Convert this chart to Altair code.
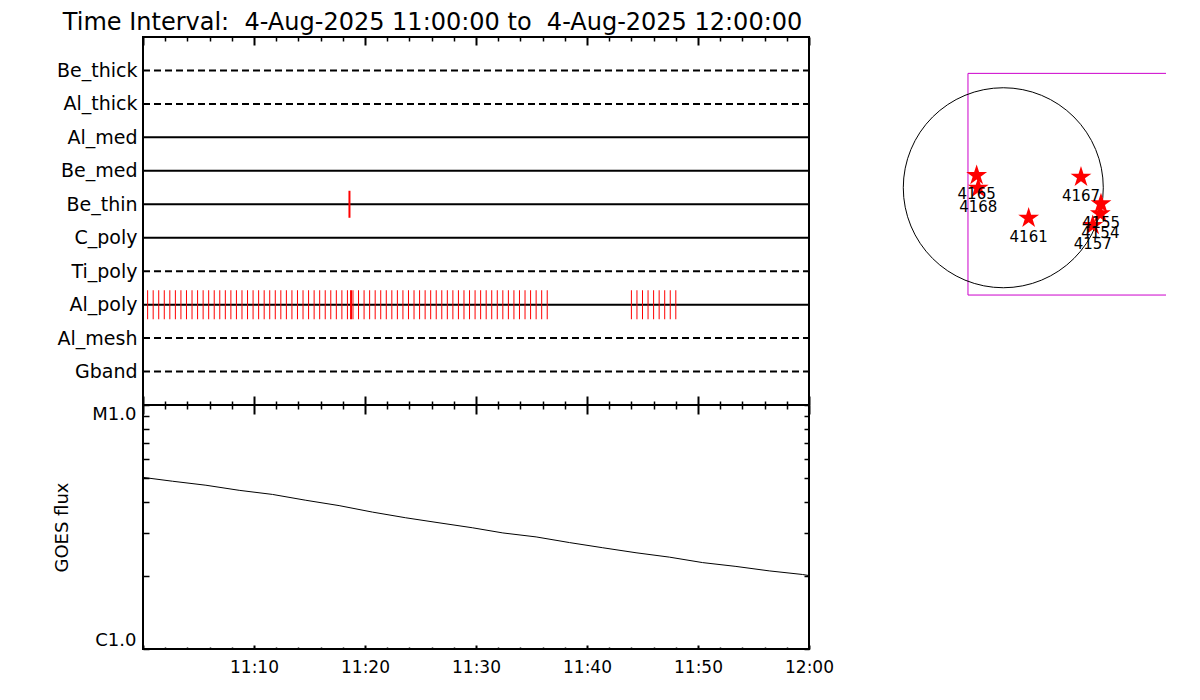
import altair as alt
import pandas as pd

DAY = "2025-08-04"
TITLE = "Time Interval:\u00a0\u00a04-Aug-2025 11:00:00 to\u00a0\u00a04-Aug-2025 12:00:00"
FONT = "DejaVu Sans"

# ---------------- data ----------------
detectors = ["Be_thick", "Al_thick", "Al_med", "Be_med", "Be_thin",
             "C_poly", "Ti_poly", "Al_poly", "Al_mesh", "Gband"]
detector_styles = ["dashed", "dashed", "solid", "solid", "solid",
                   "solid", "dashed", "solid", "dashed", "dashed"]
interval_start = "11:00:00"
interval_end = "12:00:00"

al_poly_times = [
    "11:00:25", "11:00:55", "11:01:25", "11:01:55", "11:02:25", "11:02:55",
    "11:03:25", "11:03:55", "11:04:25", "11:04:55", "11:05:25", "11:05:55",
    "11:06:25", "11:06:55", "11:07:25", "11:07:55", "11:08:25", "11:08:55",
    "11:09:25", "11:09:55", "11:10:25", "11:10:55", "11:11:25", "11:11:55",
    "11:12:25", "11:12:55", "11:13:25", "11:13:55", "11:14:25", "11:14:55",
    "11:15:25", "11:15:55", "11:16:25", "11:16:55", "11:17:25", "11:17:55",
    "11:18:25", "11:18:42", "11:18:47", "11:18:55", "11:19:25", "11:19:55",
    "11:20:25", "11:20:55", "11:21:25", "11:21:55", "11:22:25", "11:22:55",
    "11:23:25", "11:23:55", "11:24:25", "11:24:55", "11:25:25", "11:25:55",
    "11:26:25", "11:26:55", "11:27:25", "11:27:55", "11:28:25", "11:28:55",
    "11:29:25", "11:29:55", "11:30:25", "11:30:55", "11:31:25", "11:31:55",
    "11:32:25", "11:32:55", "11:33:25", "11:33:55", "11:34:25", "11:34:55",
    "11:35:25", "11:35:55", "11:36:25",
    "11:44:00", "11:44:30", "11:45:00", "11:45:30", "11:46:00", "11:46:30",
    "11:47:00", "11:47:30", "11:48:00",
]
be_thin_times = ["11:18:36"]

goes_times = ["11:00:00", "11:02:40", "11:05:40", "11:08:40", "11:11:40", "11:14:40",
              "11:17:40", "11:20:40", "11:23:40", "11:26:40", "11:29:40", "11:32:25",
              "11:35:25", "11:38:25", "11:41:25", "11:44:25", "11:47:25", "11:50:25",
              "11:53:25", "11:56:25", "11:59:25", "12:00:00"]
goes_flux = [5.05e-6, 4.87e-6, 4.69e-6, 4.47e-6, 4.30e-6, 4.07e-6,
             3.87e-6, 3.64e-6, 3.45e-6, 3.29e-6, 3.14e-6, 2.99e-6,
             2.88e-6, 2.73e-6, 2.60e-6, 2.48e-6, 2.38e-6, 2.26e-6,
             2.18e-6, 2.09e-6, 2.02e-6, 2.00e-6]

tick_times = ["11:00", "11:02", "11:04", "11:06", "11:08", "11:10", "11:12", "11:14",
              "11:16", "11:18", "11:20", "11:22", "11:24", "11:26", "11:28", "11:30",
              "11:32", "11:34", "11:36", "11:38", "11:40", "11:42", "11:44", "11:46",
              "11:48", "11:50", "11:52", "11:54", "11:56", "11:58", "12:00"]
label_times = ["11:10", "11:20", "11:30", "11:40", "11:50", "12:00"]
flux_ticks = [1e-6, 2e-6, 3e-6, 4e-6, 5e-6, 6e-6, 7e-6, 8e-6, 9e-6, 1e-5]
flux_labels = [1e-6, 1e-5]

ar_numbers = ["4165", "4168", "4167", "4161", "4155", "4154", "4157"]
ar_x = [-252, -237, 735, 240, 924, 918, 846]
ar_y = [117, -3, 101, -287, -151, -246, -356]
fov_x = [-334, 1766]
fov_y = [-1015, 1082]
map_x_domain = [-1062, 1539]
map_y_domain = [-1412, 1426]


def iso(t):
    if len(t) == 5:
        t = t + ":00"
    return f"{DAY}T{t}Z"


def ms(t):
    return int(pd.Timestamp(iso(t)).timestamp() * 1000)


# ---------------- tables ----------------
det_df = pd.DataFrame({"detector": detectors, "style": detector_styles,
                       "start": iso(interval_start), "end": iso(interval_end)})
al_df = pd.DataFrame({"time": [iso(t) for t in al_poly_times], "detector": "Al_poly"})
be_df = pd.DataFrame({"time": [iso(t) for t in be_thin_times], "detector": "Be_thin"})
goes_df = pd.DataFrame({"time": [iso(t) for t in goes_times], "flux": goes_flux})
ar_df = pd.DataFrame({"ar": ar_numbers, "x": ar_x, "y": ar_y})
fov_df = pd.DataFrame({"x1": [fov_x[0]], "x2": [fov_x[1]], "y1": [fov_y[0]], "y2": [fov_y[1]]})
sun_df = pd.DataFrame({"x": [0], "y": [0]})

W = 666
H1 = 368
H2 = 244

tick_ms = [ms(t) for t in tick_times]
label_ms = [ms(t) for t in label_times]
xscale = alt.Scale(type="utc", domain=[ms(interval_start), ms(interval_end)], nice=False)
yscale_det = alt.Scale(type="point", domain=detectors, padding=1)
yscale_flux = alt.Scale(type="log", domain=[1e-6, 1e-5], nice=False)

MAJOR = "utcminutes(datum.value) % 10 === 0"


def x_tick_axis(orient, offset, major, minor):
    return alt.Axis(orient=orient, offset=offset, values=tick_ms, labels=False,
                    domain=False, grid=False, title=None, tickColor="black",
                    tickSize={"condition": {"test": MAJOR, "value": major}, "value": minor},
                    tickWidth={"condition": {"test": MAJOR, "value": 2}, "value": 1.5})


def y_tick_axis(orient, offset, size):
    return alt.Axis(orient=orient, offset=offset, values=flux_ticks, labels=False,
                    domain=False, grid=False, title=None, tickColor="black",
                    tickSize=size, tickWidth=1.5)


border = alt.ViewBackground(stroke="black", strokeWidth=2)

# ---------------- upper panel ----------------
rules = alt.Chart(det_df).mark_rule(color="black", strokeWidth=2).encode(
    x=alt.X("start:T", scale=xscale, axis=x_tick_axis("bottom", -H1, 8, 4)),
    x2="end:T",
    y=alt.Y("detector:N", scale=yscale_det, sort=detectors,
            axis=alt.Axis(ticks=False, domain=False, grid=False, title=None,
                          labelFont=FONT, labelFontSize=19, labelColor="black",
                          labelPadding=6)),
    strokeDash=alt.StrokeDash("style:N", scale=alt.Scale(domain=["solid", "dashed"],
                                                         range=[[1, 0], [7, 4]]),
                              legend=None),
)
al_ticks = alt.Chart(al_df).mark_tick(orient="vertical", size=29, thickness=1,
                                      color="#ff0000", opacity=1).encode(
    x=alt.X("time:T", scale=xscale, axis=x_tick_axis("top", -H1, 9, 4)),
    y=alt.Y("detector:N", scale=yscale_det, sort=detectors, axis=None),
)
be_ticks = alt.Chart(be_df).mark_tick(orient="vertical", size=27, thickness=2,
                                      color="#ff0000", opacity=1).encode(
    x=alt.X("time:T", scale=xscale, axis=None),
    y=alt.Y("detector:N", scale=yscale_det, sort=detectors, axis=None),
)
upper = alt.layer(rules, al_ticks, be_ticks).resolve_axis(
    x="independent", y="independent").properties(width=W, height=H1, view=border)

# ---------------- lower panel ----------------
goes_line = alt.Chart(goes_df).mark_line(color="black", strokeWidth=1).encode(
    x=alt.X("time:T", scale=xscale,
            axis=alt.Axis(orient="bottom", values=label_ms, format="%H:%M", ticks=False,
                          domain=False, grid=False, title=None, labelFlush=False,
                          labelFont=FONT, labelFontSize=17, labelColor="black",
                          labelPadding=10)),
    y=alt.Y("flux:Q", scale=yscale_flux,
            axis=alt.Axis(values=flux_labels,
                          labelExpr="datum.value > 5e-6 ? 'M1.0' : 'C1.0'",
                          labelFlush=True, ticks=False, domain=False, grid=False,
                          labelFont=FONT, labelFontSize=18, labelColor="black",
                          labelPadding=7, title="GOES flux", titleFont=FONT,
                          titleFontSize=18, titleFontWeight="normal",
                          titleColor="black", titlePadding=20)),
)
goes_axes_a = alt.Chart(goes_df).mark_line(opacity=0).encode(
    x=alt.X("time:T", scale=xscale, axis=x_tick_axis("bottom", -H2, 9, 4)),
    y=alt.Y("flux:Q", scale=yscale_flux, axis=y_tick_axis("right", -W, 6)),
)
goes_axes_b = alt.Chart(goes_df).mark_line(opacity=0).encode(
    x=alt.X("time:T", scale=xscale, axis=x_tick_axis("top", -H2, 4, 2)),
    y=alt.Y("flux:Q", scale=yscale_flux, axis=y_tick_axis("left", -W, 5)),
)
lower = alt.layer(goes_line, goes_axes_a, goes_axes_b).resolve_axis(
    x="independent", y="independent").properties(width=W, height=H2, view=border)

left = alt.vconcat(upper, lower, spacing=0, bounds="flush")

# ---------------- map panel ----------------
mx = alt.Scale(domain=map_x_domain, nice=False, zero=False)
my = alt.Scale(domain=map_y_domain, nice=False, zero=False)
STAR = ("M0,-1L0.225,-0.309L0.951,-0.309L0.363,0.118L0.588,0.809L0,0.382"
        "L-0.588,0.809L-0.363,0.118L-0.951,-0.309L-0.225,-0.309Z")

fov = alt.Chart(fov_df).mark_rect(fillOpacity=0, stroke="#cc00cc", strokeWidth=1,
                                  clip=True).encode(
    x=alt.X("x1:Q", scale=mx, axis=None), x2="x2:Q",
    y=alt.Y("y1:Q", scale=my, axis=None), y2="y2:Q",
)
sun = alt.Chart(sun_df).mark_point(shape="circle", filled=False, stroke="black",
                                   strokeWidth=1, size=40000, opacity=1).encode(
    x=alt.X("x:Q", scale=mx, axis=None), y=alt.Y("y:Q", scale=my, axis=None),
)
stars = alt.Chart(ar_df).mark_point(shape=STAR, filled=True, fill="#ff0000",
                                    strokeOpacity=0, size=480, opacity=1).encode(
    x=alt.X("x:Q", scale=mx, axis=None), y=alt.Y("y:Q", scale=my, axis=None),
)
labels = alt.Chart(ar_df).mark_text(dy=19, font=FONT, fontSize=15, color="black").encode(
    x=alt.X("x:Q", scale=mx, axis=None), y=alt.Y("y:Q", scale=my, axis=None),
    text="ar:N",
)
map_chart = alt.layer(fov, sun, stars, labels).properties(
    width=275, height=300, view=alt.ViewBackground(stroke="transparent"))

chart = alt.hconcat(left, map_chart, spacing=55).properties(
    title=alt.Title(TITLE, anchor="start", font=FONT, fontSize=24,
                    fontWeight="normal", color="black", offset=0, dx=10),
    padding={"left": 44, "top": 3, "right": 5, "bottom": 5},
).configure(font=FONT)

chart.save("out.html", embed_options={"renderer": "svg", "actions": False})
